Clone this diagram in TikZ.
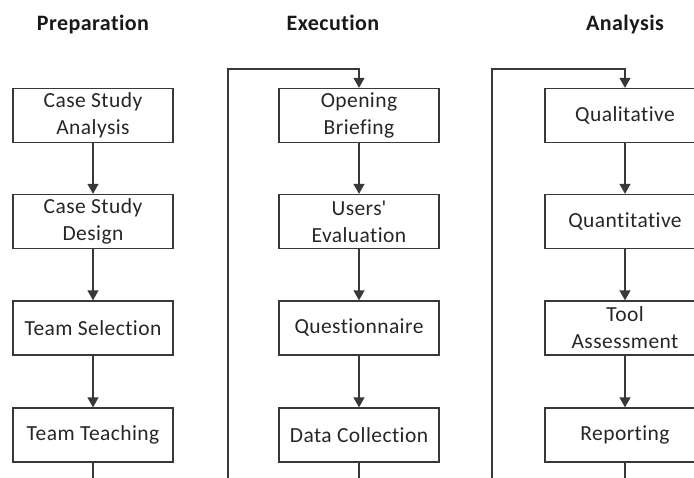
\documentclass[tikz,border=0pt]{standalone}
\usepackage{fontspec}
\setmainfont{Carlito}[Ligatures={NoCommon}, LetterSpace=2]
\usetikzlibrary{arrows.meta}
\begin{document}
\begin{tikzpicture}[x=1pt,y=-1pt,
  box/.style={draw=black!78, line width=1.3pt, minimum width=160pt, minimum height=54pt,
    align=center, font=\fontsize{21.5}{27}\selectfont, text=black!85, inner sep=0pt},
  hdr/.style={font=\fontsize{22}{24}\selectfont\bfseries, text=black!90},
  conn/.style={draw=black!78, line width=1.3pt, -{Triangle[length=10pt,width=11pt]}},
  plain/.style={draw=black!78, line width=1.3pt}]
\useasboundingbox (0,0) rectangle (694,477);
\clip (0,0) rectangle (694,477);
% headers
\node[hdr, anchor=base] (h1) at (93,30) {Preparation};
\node[hdr, anchor=base] (h2) at (333,30) {Execution};
\node[hdr, anchor=base] (h3) at (625,30) {Analysis};
% column 1
\node[box] (p1) at (93,115.5) {Case Study\\Analysis};
\node[box] (p2) at (93,221.5) {Case Study\\Design};
\node[box] (p3) at (93,328) {Team Selection};
\node[box] (p4) at (93,435) {Team Teaching};
% column 2
\node[box] (e1) at (359,115.5) {Opening\\Briefing};
\node[box] (e2) at (359,221.5) {Users\textquotesingle\\Evaluation};
\node[box] (e3) at (359,328) {Questionnaire};
\node[box] (e4) at (359,435) {Data Collection};
% column 3
\node[box] (a1) at (625,115.5) {Qualitative};
\node[box] (a2) at (625,221.5) {Quantitative};
\node[box] (a3) at (625,328) {Tool\\Assessment};
\node[box] (a4) at (625,435) {Reporting};
% connectors
\draw[conn] (p1) -- (p2);
\draw[conn] (p2) -- (p3);
\draw[conn] (p3) -- (p4);
\draw[conn] (e1) -- (e2);
\draw[conn] (e2) -- (e3);
\draw[conn] (e3) -- (e4);
\draw[conn] (a1) -- (a2);
\draw[conn] (a2) -- (a3);
\draw[conn] (a3) -- (a4);
% bottom continuations
\coordinate (pb) at (93,485);
\coordinate (eb) at (359,485);
\coordinate (ab) at (625,485);
\draw[plain] (p4) -- (pb);
\draw[plain] (e4) -- (eb);
\draw[plain] (a4) -- (ab);
% loop-back lines
\coordinate (l2b) at (228,485);
\coordinate (l2t) at (228,69);
\coordinate (l3b) at (492,485);
\coordinate (l3t) at (492,69);
\draw[conn] (l2b) -- (l2t) -| (e1.north);
\draw[conn] (l3b) -- (l3t) -| (a1.north);
\end{tikzpicture}
\end{document}
